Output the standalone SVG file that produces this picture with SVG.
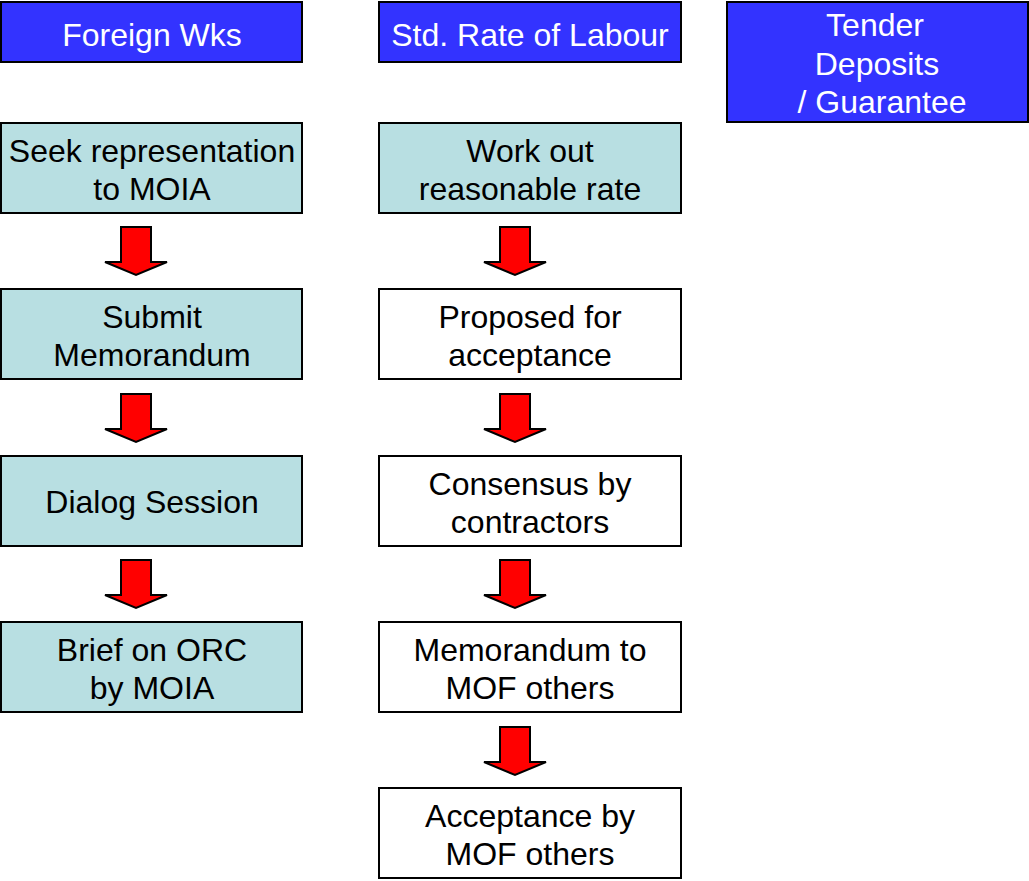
<svg xmlns="http://www.w3.org/2000/svg" width="1029" height="881" viewBox="0 0 1029 881">
<style>
.hd{fill:#3333FF;stroke:#000;stroke-width:2}
.tl{fill:#B8DFE2;stroke:#000;stroke-width:2}
.wh{fill:#FFFFFF;stroke:#000;stroke-width:2}
text{font-family:"Liberation Sans",Arial,sans-serif;font-size:32px;text-anchor:middle}
.wt{fill:#FFFFFF}
.bt{fill:#000000}
.arr{fill:#FF0000;stroke:#000;stroke-width:2;stroke-linejoin:miter}
</style>
<defs>
<path id="ar" d="M-15,0 H15 V35 H31 L0,48 L-31,35 H-15 Z"/>
</defs>
<rect width="1029" height="881" fill="#fff"/>
<g id="n-foreign"><rect class="hd" x="1" y="2" width="301" height="60"/><text class="wt" x="152" y="46">Foreign Wks</text></g>
<g id="n-std"><rect class="hd" x="379" y="2" width="302" height="60"/><text class="wt" x="530" y="46">Std. Rate of Labour</text></g>
<g id="n-tender"><rect class="hd" x="727" y="2" width="301" height="120"/><text class="wt" x="875" y="36">Tender</text><text class="wt" x="877" y="75">Deposits</text><text class="wt" x="882" y="113">/ Guarantee</text></g>
<g id="n-seek"><rect class="tl" x="1" y="123" width="301" height="90"/><text class="bt" x="152" y="162">Seek representation</text><text class="bt" x="152" y="200">to MOIA</text></g>
<g id="n-submit"><rect class="tl" x="1" y="289" width="301" height="90"/><text class="bt" x="152" y="328">Submit</text><text class="bt" x="152" y="366">Memorandum</text></g>
<g id="n-dialog"><rect class="tl" x="1" y="456" width="301" height="90"/><text class="bt" x="152" y="513">Dialog Session</text></g>
<g id="n-brief"><rect class="tl" x="1" y="622" width="301" height="90"/><text class="bt" x="152" y="661">Brief on ORC</text><text class="bt" x="152" y="699">by MOIA</text></g>
<g id="n-work"><rect class="tl" x="379" y="123" width="302" height="90"/><text class="bt" x="530" y="162">Work out</text><text class="bt" x="530" y="200">reasonable rate</text></g>
<g id="n-proposed"><rect class="wh" x="379" y="289" width="302" height="90"/><text class="bt" x="530" y="328">Proposed for</text><text class="bt" x="530" y="366">acceptance</text></g>
<g id="n-consensus"><rect class="wh" x="379" y="456" width="302" height="90"/><text class="bt" x="530" y="495">Consensus by</text><text class="bt" x="530" y="533">contractors</text></g>
<g id="n-memo"><rect class="wh" x="379" y="622" width="302" height="90"/><text class="bt" x="530" y="661">Memorandum to</text><text class="bt" x="530" y="699">MOF others</text></g>
<g id="n-accept"><rect class="wh" x="379" y="788" width="302" height="90"/><text class="bt" x="530" y="827">Acceptance by</text><text class="bt" x="530" y="865">MOF others</text></g>
<g id="connectors">
<use href="#ar" class="arr" x="136" y="227"/>
<use href="#ar" class="arr" x="136" y="394"/>
<use href="#ar" class="arr" x="136" y="560"/>
<use href="#ar" class="arr" x="515" y="227"/>
<use href="#ar" class="arr" x="515" y="394"/>
<use href="#ar" class="arr" x="515" y="560"/>
<use href="#ar" class="arr" x="515" y="727"/>
</g>
</svg>
